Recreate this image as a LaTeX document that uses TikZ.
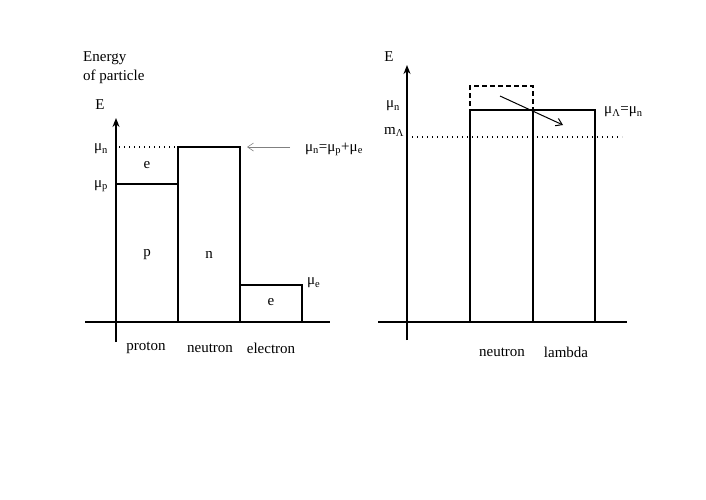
\documentclass[tikz,border=0pt]{standalone}
\usepackage{fontspec}
\setmainfont{Liberation Serif}
\usetikzlibrary{arrows.meta}
\newcommand{\sub}[1]{\textsubscript{#1}}
\begin{document}
\begin{tikzpicture}[x=1pt,y=-1pt,
  lbl/.style={font=\fontsize{15}{17}\selectfont, inner sep=0pt},
  box/.style={draw, line width=1.4pt},
  axis/.style={line width=1.4pt},
  axarrow/.style={line width=1.4pt,-{Stealth[length=9pt,width=7pt]}},
  dots/.style={line width=1.2pt, dash pattern=on 1.3pt off 3.7pt},
  ]
\useasboundingbox (0,0) rectangle (706,499);
% ---------- left diagram ----------
\coordinate (lxb) at (116,342);
\coordinate (lxt) at (116,118);
\coordinate (lhl) at (85,322);
\coordinate (lhr) at (330,322);
\draw[axis] (lhl) -- (lhr);
\draw[axarrow] (lxb) -- (lxt);
\draw[box] (116,322) rectangle (178,184);
\draw[box] (178,322) rectangle (240,147);
\draw[box] (240,322) rectangle (302,285);
\draw[dots] (116,184) rectangle (178,147);
\node[lbl] (p) at (147,255) {p};
\node[lbl] (n) at (209,255) {n};
\node[lbl] (e1) at (147,165) {e};
\node[lbl] (e2) at (271,302) {e};
\node[lbl, anchor=west] (mue) at (307,283) {μ\sub{e}};
\node[lbl] (mun) at (101,149) {μ\sub{n}};
\node[lbl] (mup) at (101,186) {μ\sub{p}};
\node[lbl] (E1) at (100,105) {E};
\node[lbl, anchor=west] (en) at (83,58) {Energy};
\node[lbl, anchor=west] (op) at (83,77) {of particle};
\node[lbl, anchor=west] (eq) at (305,149) {μ\sub{n}=μ\sub{p}+μ\sub{e}};
\coordinate (arS) at (290,147);
\coordinate (arE) at (247,147);
\draw[gray, line width=0.6pt, -{Straight Barb[length=6pt,width=8pt]}] (arS) -- (arE);
\node[lbl] (pr) at (146,348) {proton};
\node[lbl] (ne) at (210,348) {neutron};
\node[lbl] (el) at (271,348) {electron};
% ---------- right diagram ----------
\coordinate (rxb) at (407,340);
\coordinate (rxt) at (407,65);
\coordinate (rhl) at (378,322);
\coordinate (rhr) at (627,322);
\draw[axis] (rhl) -- (rhr);
\draw[axarrow] (rxb) -- (rxt);
\draw[dots] (407,137) -- (622,137);
\draw[line width=1.4pt, dash pattern=on 5pt off 3pt] (470,322) -- (470,86) -- (533,86) -- (533,322);
\draw[box] (470,322) rectangle (533,110);
\draw[box] (533,322) rectangle (595,110);
\coordinate (a2S) at (500,96);
\coordinate (a2E) at (563,125);
\draw[line width=1pt, -{Straight Barb[length=6pt,width=8pt]}] (a2S) -- (a2E);
\node[lbl] (E2) at (389,57) {E};
\node[lbl] (mun2) at (393,106) {μ\sub{n}};
\node[lbl] (mL) at (394,132) {m\sub{Λ}};
\node[lbl, anchor=west] (eq2) at (604,112) {μ\sub{Λ}=μ\sub{n}};
\node[lbl] (ne2) at (502,352) {neutron};
\node[lbl] (la) at (566,352) {lambda};
\end{tikzpicture}
\end{document}
